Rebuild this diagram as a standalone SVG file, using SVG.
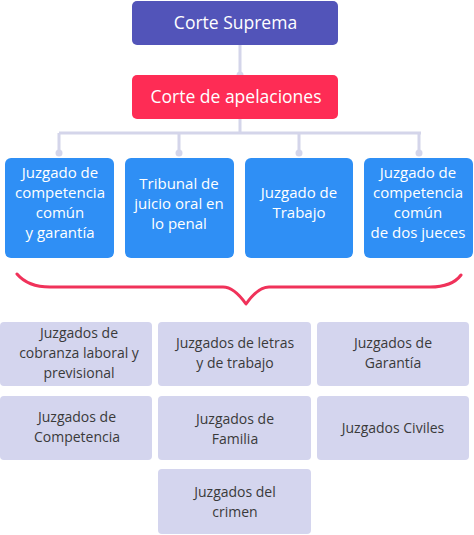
<svg xmlns="http://www.w3.org/2000/svg" width="474" height="535" viewBox="0 0 474 535">
<style>
.t{font-family:"Open Sans","Noto Sans",sans-serif;font-size:15px;text-anchor:middle}
.w{fill:#ffffff}
.big{font-size:17.5px}
.g{fill:#3a3a3a;font-size:14px}
.blue{fill:#2f8ff5}
.gray{fill:#d4d5ee}
.ln{stroke:#d4d5ea;stroke-width:3;fill:none}
.dot{fill:#d4d5ea}
</style>
<rect width="474" height="535" fill="#ffffff"/>
<g id="connectors">
<path class="ln" d="M240 45V75M240 119V133M59 133H421M59 133V153M179 133V153M299 133V153M419 133V153"/>
<circle class="dot" cx="240" cy="75" r="3.5"/>
<circle class="dot" cx="59" cy="153" r="3.5"/>
<circle class="dot" cx="179" cy="153" r="3.5"/>
<circle class="dot" cx="299" cy="153" r="3.5"/>
<circle class="dot" cx="419" cy="153" r="3.5"/>
<path d="M17 274Q28 287 50 287H223Q234 287 246 304Q258 287 269 287H430Q452 287 461 275" fill="none" stroke="#f0325a" stroke-width="3" stroke-linecap="round" stroke-linejoin="round"/>
</g>
<g id="corte-suprema">
<rect x="132" y="1" width="206" height="44" rx="5" fill="#5254b9"/>
<text class="t w big" x="235.5" y="29">Corte Suprema</text>
</g>
<g id="corte-apelaciones">
<rect x="132" y="75" width="206" height="44" rx="5" fill="#fe2c55"/>
<text class="t w big" x="236" y="103">Corte de apelaciones</text>
</g>
<g id="b1">
<rect class="blue" x="5" y="158" width="109" height="100" rx="6"/>
<text class="t w" x="60" y="178">Juzgado de</text>
<text class="t w" x="60" y="198">competencia</text>
<text class="t w" x="60" y="218">común</text>
<text class="t w" x="60" y="238">y garantía</text>
</g>
<g id="b2">
<rect class="blue" x="125" y="158" width="109" height="100" rx="6"/>
<text class="t w" x="179" y="189">Tribunal de</text>
<text class="t w" x="179" y="209">juicio oral en</text>
<text class="t w" x="179" y="229">lo penal</text>
</g>
<g id="b3">
<rect class="blue" x="245" y="158" width="108" height="100" rx="6"/>
<text class="t w" x="299" y="198">Juzgado de</text>
<text class="t w" x="299" y="218">Trabajo</text>
</g>
<g id="b4">
<rect class="blue" x="364" y="158" width="109" height="100" rx="6"/>
<text class="t w" x="418" y="178">Juzgado de</text>
<text class="t w" x="418" y="198">competencia</text>
<text class="t w" x="418" y="218">común</text>
<text class="t w" x="418" y="238">de dos jueces</text>
</g>
<g id="g1">
<rect class="gray" x="0" y="322" width="152" height="64" rx="4"/>
<text class="t g" x="79" y="338">Juzgados de</text>
<text class="t g" x="79" y="358">cobranza laboral y</text>
<text class="t g" x="79" y="378">previsional</text>
</g>
<g id="g2">
<rect class="gray" x="158" y="322" width="153" height="64" rx="4"/>
<text class="t g" x="235" y="348">Juzgados de letras</text>
<text class="t g" x="235" y="368">y de trabajo</text>
</g>
<g id="g3">
<rect class="gray" x="317" y="322" width="152" height="64" rx="4"/>
<text class="t g" x="393" y="348">Juzgados de</text>
<text class="t g" x="393" y="368">Garantía</text>
</g>
<g id="g4">
<rect class="gray" x="0" y="396" width="152" height="64" rx="4"/>
<text class="t g" x="77" y="422">Juzgados de</text>
<text class="t g" x="77" y="442">Competencia</text>
</g>
<g id="g5">
<rect class="gray" x="158" y="396" width="153" height="64" rx="4"/>
<text class="t g" x="235" y="424">Juzgados de</text>
<text class="t g" x="235" y="444">Familia</text>
</g>
<g id="g6">
<rect class="gray" x="317" y="396" width="152" height="64" rx="4"/>
<text class="t g" x="393" y="433">Juzgados Civiles</text>
</g>
<g id="g7">
<rect class="gray" x="158" y="469" width="153" height="65" rx="4"/>
<text class="t g" x="235" y="497">Juzgados del</text>
<text class="t g" x="235" y="517">crimen</text>
</g>
</svg>
